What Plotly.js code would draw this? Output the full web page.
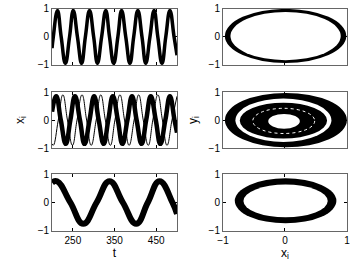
<!DOCTYPE html>
<html>
<head>
<meta charset="utf-8">
<script src="https://cdn.plot.ly/plotly-3.0.1.min.js"></script>
<style>
  html, body { margin: 0; padding: 0; background: #fff; }
  #myDiv { width: 354px; height: 263px; }
</style>
</head>
<body>
<div id="myDiv"></div>
<script>
// top left: x_i(t), all oscillators together (extrema + zero crossings)
let tTop = [200, 203, 213, 222, 232, 242, 251, 261, 271, 280, 290, 300, 309, 319, 329, 338, 348, 358, 367, 377, 387, 396, 406, 416, 425, 435, 445, 454, 464, 473, 483, 493, 500]
let xTop = [-0.4, 0, 0.94, 0, -0.94, 0, 0.94, 0, -0.94, 0, 0.94, 0, -0.94, 0, 0.94, 0, -0.94, 0, 0.94, 0, -0.94, 0, 0.94, 0, -0.94, 0, 0.94, 0, -0.94, 0, 0.94, 0, -0.65]

// middle left: thick group + one thin oscillator
let tMidThick = [200, 210, 221, 233, 244, 255, 267, 278, 290, 301, 312, 324, 335, 346, 358, 369, 381, 392, 403, 415, 426, 437, 449, 460, 472, 483, 494, 500]
let xMidThick = [0.3, 0.85, 0, -0.85, 0, 0.85, 0, -0.85, 0, 0.85, 0, -0.85, 0, 0.85, 0, -0.85, 0, 0.85, 0, -0.85, 0, 0.85, 0, -0.85, 0, 0.85, 0, -0.45]
let tMidThin = [200, 203, 215, 226, 237, 249, 260, 272, 283, 294, 306, 317, 328, 340, 351, 363, 374, 385, 397, 408, 419, 431, 442, 454, 465, 476, 488, 500]
let xMidThin = [-0.85, -0.9, 0, 0.9, 0, -0.9, 0, 0.9, 0, -0.9, 0, 0.9, 0, -0.9, 0, 0.9, 0, -0.9, 0, 0.9, 0, -0.9, 0, 0.9, 0, -0.9, 0, 0.85]

// bottom left: slow band
let tBot = [200, 212, 244, 275, 307, 338, 370, 402, 430, 458, 489, 500]
let xBot = [0.7, 0.75, 0, -0.75, 0, 0.75, 0, -0.75, 0, 0.75, 0, -0.4]

// right column: nested orbit extents (outer first), x_i left/right, y_i bottom/top
let ringTopL = [-0.97, -0.88]
let ringTopR = [0.99, 0.9]
let ringTopB = [-0.93, -0.83]
let ringTopT = [1.0, 0.89]

let ringMidL = [-0.97, -0.8, -0.73, -0.27]
let ringMidR = [1.0, 0.75, 0.68, 0.24]
let ringMidB = [-0.97, -0.78, -0.66, -0.31]
let ringMidT = [0.97, 0.77, 0.62, 0.22]

// gaps inside the chaotic band of the middle panel
let streakL = [-0.52]
let streakR = [0.48]
let streakB = [-0.48]
let streakT = [0.42]

let ringBotL = [-0.81, -0.67]
let ringBotR = [0.83, 0.69]
let ringBotB = [-0.73, -0.52]
let ringBotT = [0.85, 0.63]

let tTicks = [250, 350, 450]
let unitTicks = [-1, 0, 1]

let fnt = {family: 'Liberation Sans, Arial, sans-serif', size: 10, color: '#000'}

function ringShapes(L, R, B, T, axis){
	let out = []
	for (let k = 0; k < L.length; k++){
		out.push({
			type: 'circle',
			xref: 'x' + axis,
			yref: 'y' + axis,
			x0: L[k], x1: R[k],
			y0: B[k], y1: T[k],
			fillcolor: (k % 2 == 0) ? '#000' : '#fff',
			line: {width: 0},
			layer: 'above'
		})
	}
	return out
}

let shapesArray = []
shapesArray = shapesArray.concat(ringShapes(ringTopL, ringTopR, ringTopB, ringTopT, '2'))
shapesArray = shapesArray.concat(ringShapes(ringMidL, ringMidR, ringMidB, ringMidT, '4'))
shapesArray = shapesArray.concat(ringShapes(ringBotL, ringBotR, ringBotB, ringBotT, '6'))
for (let k = 0; k < streakL.length; k++){
	shapesArray.push({
		type: 'circle', xref: 'x4', yref: 'y4',
		x0: streakL[k], x1: streakR[k], y0: streakB[k], y1: streakT[k],
		line: {color: '#fff', width: 1, dash: 'dot'},
		layer: 'above'
	})
}

var data = [
	{x: tTop, y: xTop, xaxis: 'x', yaxis: 'y', mode: 'lines',
		line: {color: '#000', width: 3.5, shape: 'spline', smoothing: 1.3}},
	{x: tMidThin, y: xMidThin, xaxis: 'x3', yaxis: 'y3', mode: 'lines',
		line: {color: '#000', width: 1, shape: 'spline', smoothing: 1.3}},
	{x: tMidThick, y: xMidThick, xaxis: 'x3', yaxis: 'y3', mode: 'lines',
		line: {color: '#000', width: 4.5, shape: 'spline', smoothing: 1.3}},
	{x: tBot, y: xBot, xaxis: 'x5', yaxis: 'y5', mode: 'lines',
		line: {color: '#000', width: 6, shape: 'spline', smoothing: 1.3}}
]

// axis builders
function tAxis(anchor, labels){
	return {
		domain: [0.147, 0.5], anchor: anchor, range: [200, 500],
		tickvals: tTicks, showticklabels: labels, ticks: 'inside', ticklen: 3,
		tickcolor: '#000', showline: true, linecolor: '#666', linewidth: 1,
		mirror: 'ticks', showgrid: false, zeroline: false, tickfont: fnt
	}
}
function uAxis(domain, anchor, labels){
	return {
		domain: domain, anchor: anchor, range: [-1, 1],
		tickvals: unitTicks, showticklabels: labels, ticks: 'inside', ticklen: 3,
		tickcolor: '#000', showline: true, linecolor: '#666', linewidth: 1,
		mirror: 'ticks', showgrid: false, zeroline: false, tickfont: fnt
	}
}

let rowTop = [0.753, 0.966]
let rowMid = [0.437, 0.65]
let rowBot = [0.122, 0.338]
let colRight = [0.63, 0.98]

var layout = {
	width: 354, height: 263,
	margin: {l: 0, r: 0, t: 0, b: 0},
	paper_bgcolor: '#fff', plot_bgcolor: '#fff',
	showlegend: false,
	xaxis: tAxis('y', false),
	yaxis: uAxis(rowTop, 'x', true),
	xaxis2: uAxis(colRight, 'y2', false),
	yaxis2: uAxis(rowTop, 'x2', true),
	xaxis3: tAxis('y3', false),
	yaxis3: uAxis(rowMid, 'x3', true),
	xaxis4: uAxis(colRight, 'y4', false),
	yaxis4: uAxis(rowMid, 'x4', true),
	xaxis5: tAxis('y5', true),
	yaxis5: uAxis(rowBot, 'x5', true),
	xaxis6: uAxis(colRight, 'y6', true),
	yaxis6: uAxis(rowBot, 'x6', true),
	shapes: shapesArray
}
layout.yaxis3.title = {text: 'x<sub>i</sub>', font: {family: fnt.family, size: 12, color: '#000'}, standoff: 10}
layout.yaxis4.title = {text: 'y<sub>i</sub>', font: {family: fnt.family, size: 12, color: '#000'}, standoff: 8}
layout.xaxis5.title = {text: 't', font: {family: fnt.family, size: 12, color: '#000'}, standoff: 2}
layout.xaxis6.title = {text: 'x<sub>i</sub>', font: {family: fnt.family, size: 12, color: '#000'}, standoff: 2}

Plotly.newPlot('myDiv', data, layout, {staticPlot: true, displayModeBar: false})
</script>
</body>
</html>
